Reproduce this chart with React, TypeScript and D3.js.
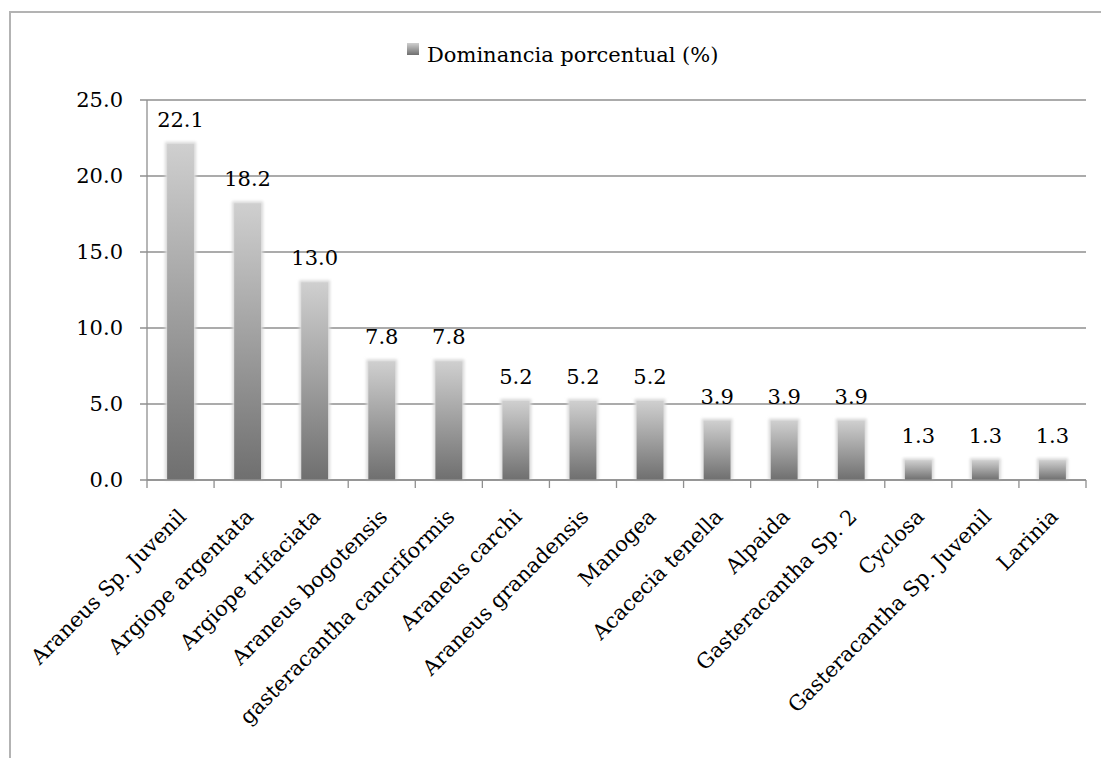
import React from "react";
import * as d3 from "d3";

// Species and their percentage dominance
const categories: string[] = [
  "Araneus Sp. Juvenil",
  "Argiope argentata",
  "Argiope trifaciata",
  "Araneus bogotensis",
  "gasteracantha cancriformis",
  "Araneus carchi",
  "Araneus granadensis",
  "Manogea",
  "Acacecia tenella",
  "Alpaida",
  "Gasteracantha Sp. 2",
  "Cyclosa",
  "Gasteracantha Sp. Juvenil",
  "Larinia",
];
const dominance: number[] = [22.1, 18.2, 13.0, 7.8, 7.8, 5.2, 5.2, 5.2, 3.9, 3.9, 3.9, 1.3, 1.3, 1.3];
const yTicks: number[] = [0, 5, 10, 15, 20, 25];
const seriesName = "Dominancia porcentual (%)";

const W = 1101;
const H = 758;
const plot = { left: 147, right: 1086, top: 100, bottom: 480 };
const FONT = "'DejaVu Serif', 'Liberation Serif', serif";
const GRID = "#8f8f8f";

export default function App() {
  const x = d3
    .scaleBand<string>()
    .domain(categories)
    .range([plot.left, plot.right])
    .paddingInner(0)
    .paddingOuter(0);
  const y = d3.scaleLinear().domain([0, 25]).range([plot.bottom, plot.top]);
  const barW = x.bandwidth() * 0.4;
  const fmt = d3.format(".1f");

  const boundaries = categories.map((c) => x(c) as number).concat([plot.right]);

  return (
    <svg
      width={W}
      height={H}
      style={{ position: "absolute", left: 0, top: 0, background: "#fff" }}
    >
      <defs>
        <linearGradient id="barGrad" x1="0" y1="0" x2="0" y2="1">
          <stop offset="0%" stopColor="#cfcfcf" />
          <stop offset="100%" stopColor="#6f6f6f" />
        </linearGradient>
        <filter id="glow" x="-30%" y="-10%" width="160%" height="120%">
          <feGaussianBlur stdDeviation="1.6" />
        </filter>
      </defs>

      {/* chart frame */}
      <rect x={10} y={12} width={1100} height={760} fill="none" stroke="#b3b3b3" strokeWidth={2} />

      {/* legend */}
      <g>
        <rect x={407} y={43} width={12} height={12} fill="url(#barGrad)" />
        <text x={427} y={62} fontFamily={FONT} fontSize={21} fill="#000">
          {seriesName}
        </text>
      </g>

      {/* horizontal gridlines and y tick labels */}
      {yTicks.map((t) => (
        <g key={t}>
          <line
            x1={plot.left - 7}
            x2={plot.right}
            y1={y(t)}
            y2={y(t)}
            stroke={GRID}
            strokeWidth={1.3}
          />
          <text
            x={123}
            y={y(t)}
            dy="0.35em"
            textAnchor="end"
            fontFamily={FONT}
            fontSize={21}
            fill="#000"
          >
            {fmt(t)}
          </text>
        </g>
      ))}

      {/* y axis */}
      <line x1={plot.left} x2={plot.left} y1={plot.top} y2={plot.bottom} stroke={GRID} strokeWidth={1.3} />

      {/* category tick marks */}
      {boundaries.map((bx, i) => (
        <line
          key={i}
          x1={bx}
          x2={bx}
          y1={plot.bottom}
          y2={plot.bottom + 8}
          stroke={GRID}
          strokeWidth={1.3}
        />
      ))}

      {/* bars */}
      {categories.map((c, i) => {
        const cx = (x(c) as number) + x.bandwidth() / 2;
        const top = y(dominance[i]);
        const h = y(0) - top;
        return (
          <g key={c}>
            <rect
              x={cx - barW / 2 - 2}
              y={top - 2}
              width={barW + 4}
              height={h + 2}
              fill="#d8d8d8"
              filter="url(#glow)"
            />
            <rect x={cx - barW / 2} y={top} width={barW} height={h} fill="url(#barGrad)" />
            <text
              x={cx}
              y={top - 17}
              textAnchor="middle"
              fontFamily={FONT}
              fontSize={21}
              fill="#000"
            >
              {fmt(dominance[i])}
            </text>
          </g>
        );
      })}

      {/* bottom axis line */}
      <line x1={plot.left} x2={plot.right} y1={plot.bottom} y2={plot.bottom} stroke={GRID} strokeWidth={1.5} />

      {/* rotated category labels */}
      {categories.map((c) => {
        const cx = (x(c) as number) + x.bandwidth() / 2 + 7;
        const ly = plot.bottom + 38;
        return (
          <text
            key={c}
            x={cx}
            y={ly}
            transform={`rotate(-45, ${cx}, ${ly})`}
            textAnchor="end"
            fontFamily={FONT}
            fontSize={21}
            fill="#000"
          >
            {c}
          </text>
        );
      })}
    </svg>
  );
}
